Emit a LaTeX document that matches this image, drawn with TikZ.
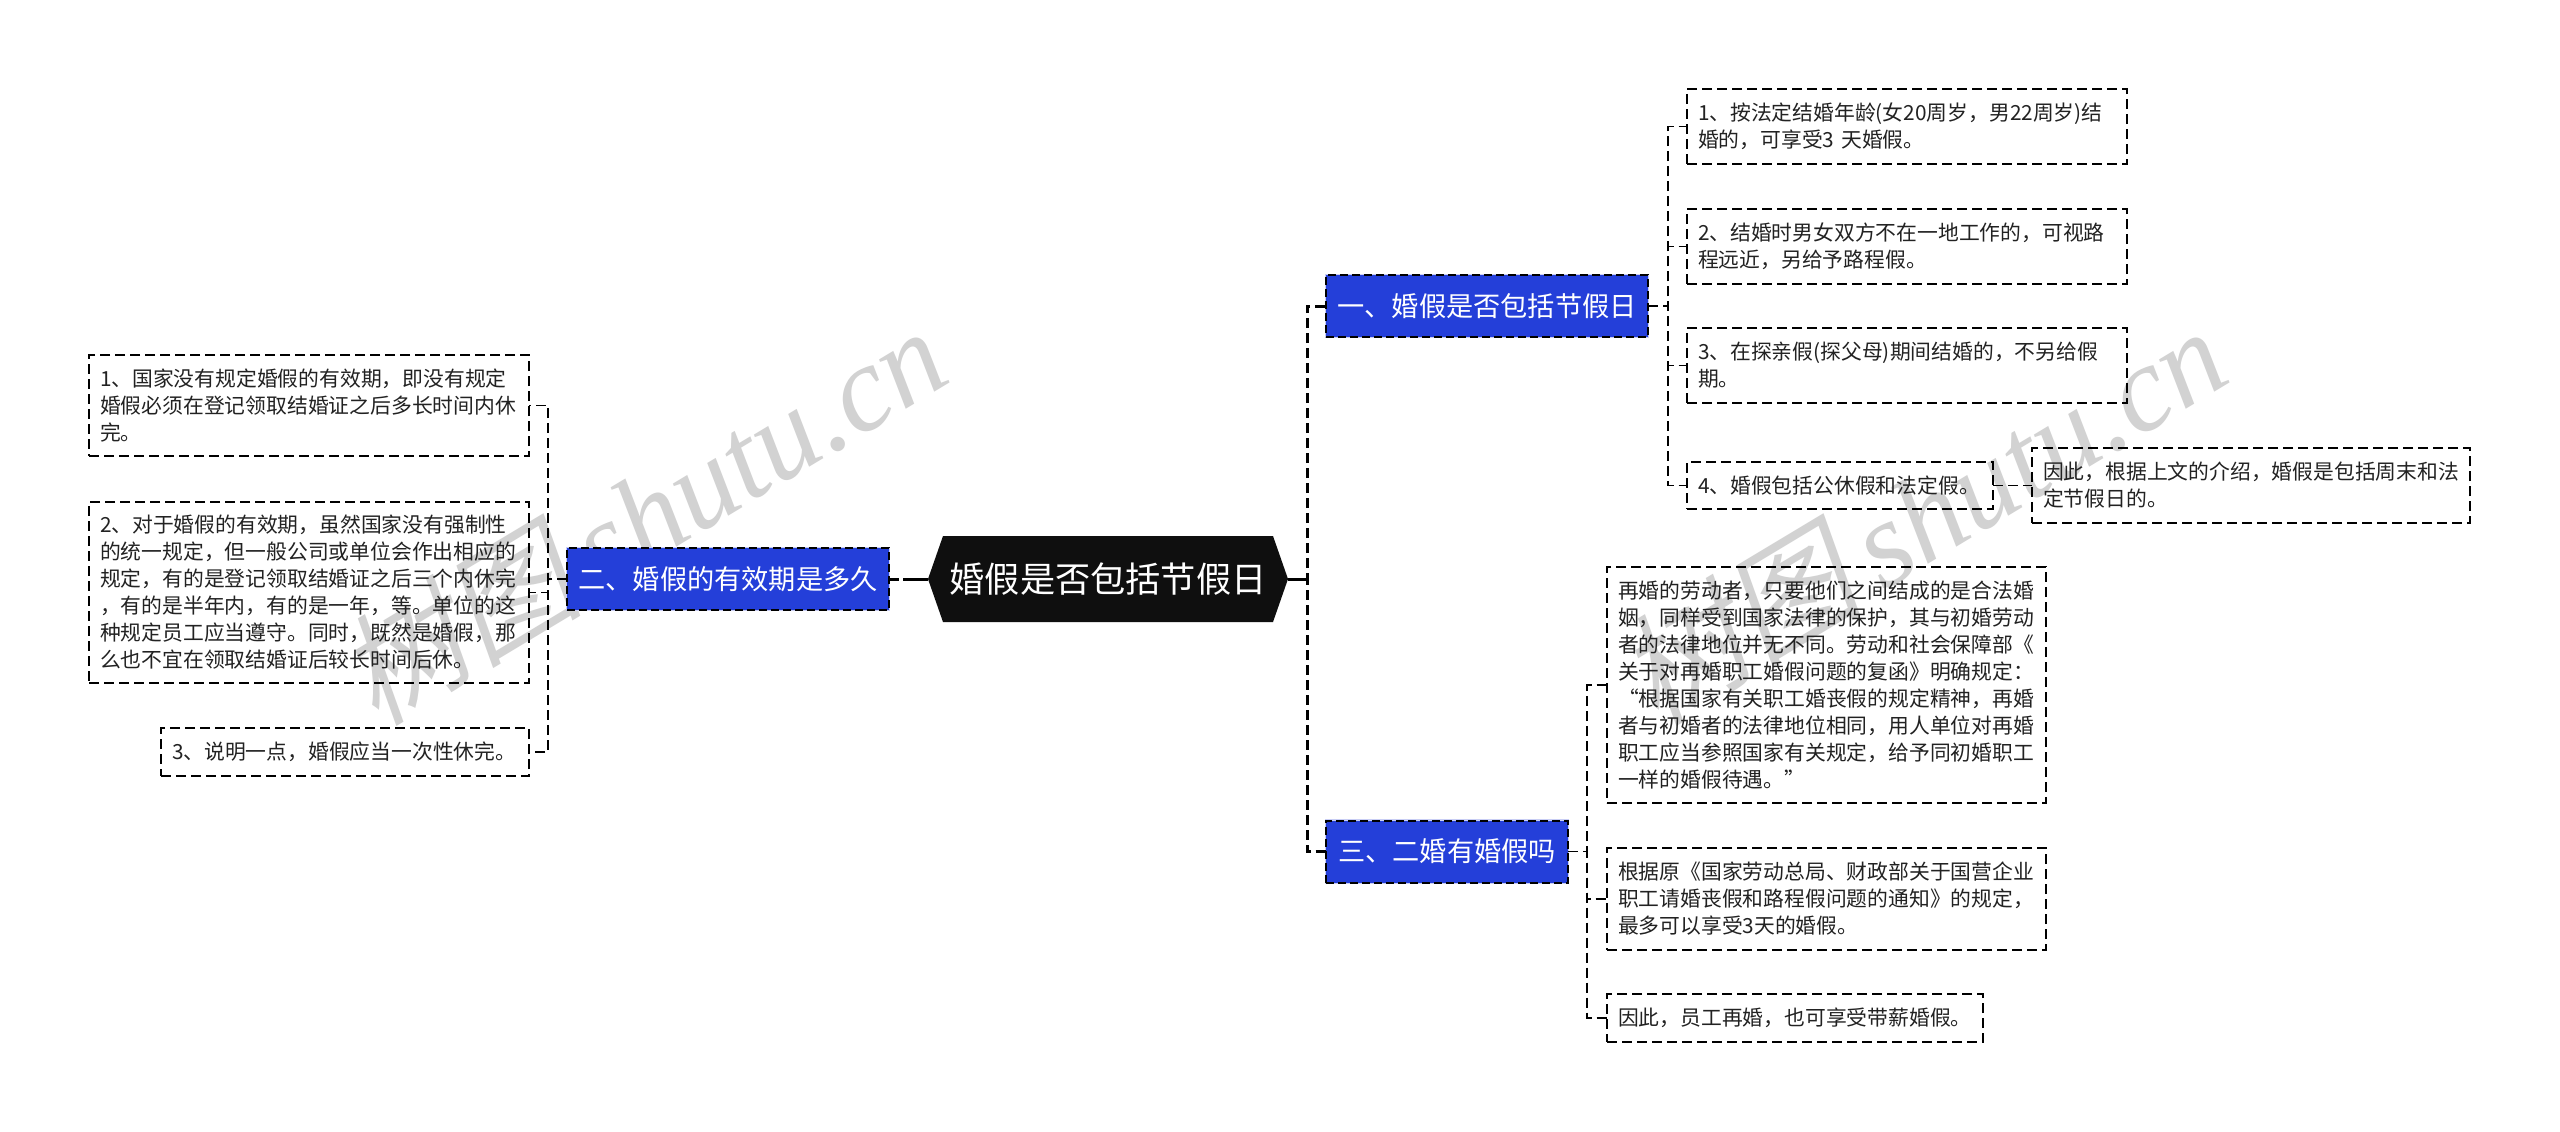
\documentclass[tikz,border=0pt]{standalone}
\usepackage{fontspec}
\setmainfont{Noto Sans CJK SC}
\newfontfamily\wmcjk[FakeSlant=0.2]{Noto Sans CJK SC}
\newfontfamily\wmlat{Liberation Serif}[ItalicFont=Liberation Serif Italic]
\definecolor{nodeblue}{HTML}{243FD9}
\definecolor{halo}{HTML}{C9CEF5}
\definecolor{wmgray}{HTML}{D2D2D2}
\definecolor{rootblack}{HTML}{0F0F0F}
\definecolor{inkgray}{HTML}{222222}
\tikzset{
  dashleaf/.style={line width=1.5pt,dash pattern=on 10pt off 5pt,draw=black},
  dashmain/.style={line width=3pt,dash pattern=on 10pt off 5pt,draw=black},
  leaf/.style={dashleaf,rectangle,align=left,inner xsep=11pt,inner ysep=0pt,outer sep=0pt,
    text=inkgray,font=\fontsize{20.8}{27}\selectfont},
  bluenode/.style={rectangle,fill=nodeblue,draw=black,line width=2pt,dash pattern=on 8pt off 4pt,
    preaction={draw=halo,solid,line width=2.6pt},
    minimum height=62pt,inner sep=0pt,outer sep=0pt,text=white,font=\fontsize{27.2}{32}\selectfont},
  rootnode/.style={rectangle,draw=none,minimum width=360pt,minimum height=86pt,inner sep=0pt,outer sep=0pt,
    text=white,font=\fontsize{35.2}{40}\selectfont},
  wmark/.style={text=wmgray,rotate=31,inner sep=0pt,font=\fontsize{122}{126}\selectfont}
}
\begin{document}
\begin{tikzpicture}[x=1pt,y=-1pt]
\useasboundingbox (0,0) rectangle (2560,1132);
\fill[white] (0,0) rectangle (2560,1132);
% watermarks
\node[wmark] (wm1) at (642,514) {{\wmcjk 树图}\,{\wmlat\itshape shutu.cn}};
\node[wmark] (wm2) at (1922,514) {{\wmcjk 树图}\,{\wmlat\itshape shutu.cn}};
% central + main branches
\coordinate (rootc) at (1108,579);
\fill[rootblack] ([shift={(-180,0)}]rootc) -- ([shift={(-165,-43)}]rootc) -- ([shift={(165,-43)}]rootc)
  -- ([shift={(180,0)}]rootc) -- ([shift={(165,43)}]rootc) -- ([shift={(-165,43)}]rootc) -- cycle;
\node[rootnode] (root) at (rootc) {婚假是否包括节假日};
\node[bluenode,minimum width=322pt] (n2) at (728,579) {二、婚假的有效期是多久};
\node[bluenode,minimum width=322pt] (n1) at (1487,306) {一、婚假是否包括节假日};
\node[bluenode,minimum width=242pt] (n3) at (1447,851.5) {三、二婚有婚假吗};
% left leaves
\node[leaf,text width=418pt,minimum height=101pt] (l1) at (309,405.5) {1、国家没有规定婚假的有效期，即没有规定\\婚假必须在登记领取结婚证之后多长时间内休\\完。};
\node[leaf,text width=418pt,minimum height=181pt] (l2) at (309,592.5) {2、对于婚假的有效期，虽然国家没有强制性\\的统一规定，但一般公司或单位会作出相应的\\规定，有的是登记领取结婚证之后三个内休完\\，有的是半年内，有的是一年，等。单位的这\\种规定员工应当遵守。同时，既然是婚假，那\\么也不宜在领取结婚证后较长时间后休。};
\node[leaf,text width=346pt,minimum height=48pt] (l3) at (345,752) {3、说明一点，婚假应当一次性休完。};
% right upper leaves
\node[leaf,text width=418pt,minimum height=75pt] (r1) at (1907,126.5) {1、按法定结婚年龄(女20周岁，男22周岁)结\\婚的，可享受3 天婚假。};
\node[leaf,text width=418pt,minimum height=75pt] (r2) at (1907,246.5) {2、结婚时男女双方不在一地工作的，可视路\\程远近，另给予路程假。};
\node[leaf,text width=418pt,minimum height=75pt] (r3) at (1907,365.5) {3、在探亲假(探父母)期间结婚的，不另给假\\期。};
\node[leaf,text width=284pt,minimum height=47pt] (r4) at (1840,485.5) {4、婚假包括公休假和法定假。};
\node[leaf,text width=416pt,minimum height=75pt] (r5) at (2251,485.5) {因此，根据上文的介绍，婚假是包括周末和法\\定节假日的。};
% right lower leaves
\node[leaf,text width=417pt,minimum height=236pt] (a) at (1826.5,685) {再婚的劳动者，只要他们之间结成的是合法婚\\姻，同样受到国家法律的保护，其与初婚劳动\\者的法律地位并无不同。劳动和社会保障部《\\关于对再婚职工婚假问题的复函》明确规定：\\“根据国家有关职工婚丧假的规定精神，再婚\\者与初婚者的法律地位相同，用人单位对再婚\\职工应当参照国家有关规定，给予同初婚职工\\一样的婚假待遇。”};
\node[leaf,text width=417pt,minimum height=102pt] (b) at (1826.5,899) {根据原《国家劳动总局、财政部关于国营企业\\职工请婚丧假和路程假问题的通知》的规定，\\最多可以享受3天的婚假。};
\node[leaf,text width=354pt,minimum height=48pt] (c) at (1795,1018) {因此，员工再婚，也可享受带薪婚假。};
% main connectors
\draw[dashmain] (root.east) -- ++(19,0) |- (n1.west);
\draw[dashmain] (root.east) -- ++(19,0) |- (n3.west);
\draw[line width=3pt] (root.east) -- ++(19,0);
\draw[dashmain] (n2.east) -- (root.west);
\draw[line width=3pt] (root.west) -- ++(-25,0);
% leaf connectors
\foreach \t in {l1,l2,l3}{\draw[dashleaf] (n2.west) -- ++(-19,0) |- (\t.east);}
\foreach \t in {r1,r2,r3,r4}{\draw[dashleaf] (n1.east) -- ++(20,0) |- (\t.west);}
\draw[dashleaf] (r4.east) -- (r5.west);
\foreach \t in {a,b,c}{\draw[dashleaf] (n3.east) -- ++(19,0) |- (\t.west);}
\end{tikzpicture}
\end{document}
